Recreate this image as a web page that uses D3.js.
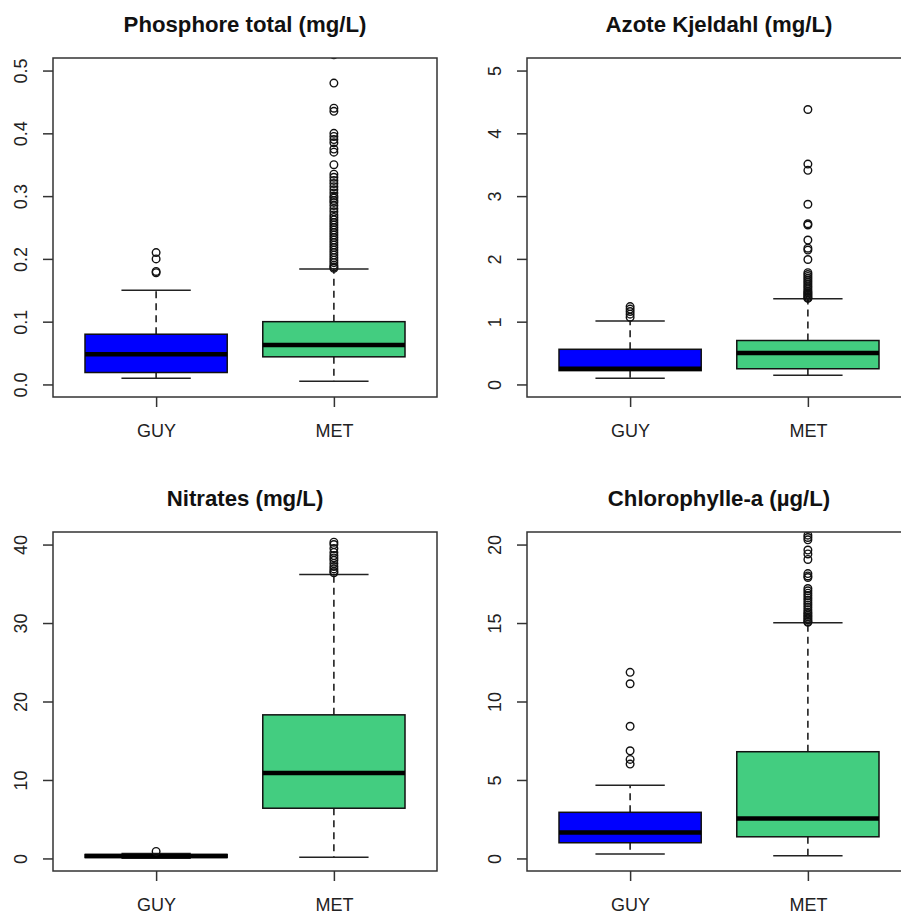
<!DOCTYPE html>
<html>
<head>
<meta charset="utf-8">
<script src="https://cdn.jsdelivr.net/npm/d3@7/dist/d3.min.js"></script>
<style>
  html, body { margin: 0; padding: 0; background: #fff; }
  svg { display: block; font-family: "Liberation Sans", Arial, Helvetica, sans-serif; }
</style>
</head>
<body>
<svg id="chart" width="901" height="914"></svg>
<script>
// ---------------- DATA ----------------
const groups = ["GUY", "MET"];
const groupColors = ["#0000FF", "#43CD80"];
const titles = ["Phosphore total (mg/L)", "Azote Kjeldahl (mg/L)", "Nitrates (mg/L)", "Chlorophylle-a (\u00B5g/L)"];
const yLimits = [[0, 0.5], [0, 5], [0, 40], [0, 20]];
const yTicks = [[0, 0.1, 0.2, 0.3, 0.4, 0.5], [0, 1, 2, 3, 4, 5], [0, 10, 20, 30, 40], [0, 5, 10, 15, 20]];
const yTickLabels = [["0.0", "0.1", "0.2", "0.3", "0.4", "0.5"], ["0", "1", "2", "3", "4", "5"], ["0", "10", "20", "30", "40"], ["0", "5", "10", "15", "20"]];

// stats: [lower whisker, Q1, median, Q3, upper whisker]
const phosStatsGUY = [0.010, 0.019, 0.048, 0.080, 0.150];
const phosStatsMET = [0.005, 0.044, 0.063, 0.100, 0.184];
const phosOutGUY = [0.21, 0.20, 0.18, 0.178];
const phosOutMET = [0.525, 0.48, 0.44, 0.435, 0.40, 0.395, 0.39, 0.385, 0.375, 0.37, 0.35, 0.335, 0.33, 0.325, 0.32, 0.315,
  0.31, 0.305, 0.30, 0.297, 0.293, 0.29, 0.285, 0.28, 0.275, 0.27, 0.266, 0.262, 0.258, 0.254, 0.25, 0.246, 0.242, 0.238,
  0.234, 0.23, 0.226, 0.222, 0.218, 0.214, 0.21, 0.206, 0.202, 0.198, 0.194, 0.19, 0.187, 0.185];

const kjelStatsGUY = [0.10, 0.22, 0.25, 0.56, 1.01];
const kjelStatsMET = [0.145, 0.25, 0.50, 0.70, 1.365];
const kjelOutGUY = [1.24, 1.20, 1.16, 1.12, 1.07];
const kjelOutMET = [4.38, 3.51, 3.41, 2.87, 2.56, 2.54, 2.30, 2.17, 2.14, 1.99, 1.78, 1.75, 1.72, 1.69, 1.66, 1.63, 1.60,
  1.57, 1.54, 1.51, 1.48, 1.46, 1.44, 1.42, 1.40, 1.38, 1.37];

const nitrStatsGUY = [0.02, 0.12, 0.30, 0.50, 0.62];
const nitrStatsMET = [0.14, 6.4, 10.9, 18.3, 36.2];
const nitrOutGUY = [0.90];
const nitrOutMET = [40.3, 40.0, 39.5, 39.0, 38.6, 38.3, 38.0, 37.6, 37.2, 36.9, 36.6, 36.4];

const chloStatsGUY = [0.28, 1.0, 1.66, 2.94, 4.66];
const chloStatsMET = [0.17, 1.38, 2.55, 6.8, 15.02];
const chloOutGUY = [11.86, 11.13, 8.42, 6.86, 6.31, 6.01];
const chloOutMET = [21.0, 20.6, 20.45, 20.3, 19.65, 19.4, 19.05, 18.15, 18.0, 17.9, 17.2, 17.05, 16.9, 16.75, 16.6,
  16.45, 16.3, 16.15, 16.0, 15.85, 15.7, 15.6, 15.5, 15.4, 15.3, 15.2, 15.1, 15.05];

const panelStats = [[phosStatsGUY, phosStatsMET], [kjelStatsGUY, kjelStatsMET], [nitrStatsGUY, nitrStatsMET], [chloStatsGUY, chloStatsMET]];
const panelOutliers = [[phosOutGUY, phosOutMET], [kjelOutGUY, kjelOutMET], [nitrOutGUY, nitrOutMET], [chloOutGUY, chloOutMET]];

// ---------------- LAYOUT ----------------
const plotW = 384, plotH = 339;
const panelOrigins = [[53, 58], [527, 58], [53, 532], [527, 532]];

const svg = d3.select("#chart");
svg.append("rect").attr("width", 901).attr("height", 914).attr("fill", "#fff");

titles.forEach((title, p) => {
  const [ox, oy] = panelOrigins[p];
  const g = svg.append("g").attr("transform", `translate(${ox},${oy})`);
  const [l0, l1] = yLimits[p];
  const ext = (l1 - l0) * 0.04;
  const x = d3.scaleLinear().domain([0.42, 2.58]).range([0, plotW]);
  const y = d3.scaleLinear().domain([l0 - ext, l1 + ext]).range([plotH, 0]);

  const clipId = "clip" + p;
  g.append("clipPath").attr("id", clipId).append("rect").attr("width", plotW).attr("height", plotH);
  const plot = g.append("g").attr("clip-path", `url(#${clipId})`);

  groups.forEach((grp, i) => {
    const pos = i + 1;
    const [lo, q1, med, q3, hi] = panelStats[p][i];
    // whiskers
    plot.append("line").attr("x1", x(pos)).attr("x2", x(pos)).attr("y1", y(q3)).attr("y2", y(hi))
      .attr("stroke", "#111").attr("stroke-width", 1.5).attr("stroke-dasharray", "7,5");
    plot.append("line").attr("x1", x(pos)).attr("x2", x(pos)).attr("y1", y(q1)).attr("y2", y(lo))
      .attr("stroke", "#111").attr("stroke-width", 1.5).attr("stroke-dasharray", "7,5");
    // caps
    [lo, hi].forEach(v => {
      plot.append("line").attr("x1", x(pos - 0.195)).attr("x2", x(pos + 0.195)).attr("y1", y(v)).attr("y2", y(v))
        .attr("stroke", "#222").attr("stroke-width", 1.5);
    });
    // box
    plot.append("rect").attr("x", x(pos - 0.4)).attr("width", x(pos + 0.4) - x(pos - 0.4))
      .attr("y", y(q3)).attr("height", y(q1) - y(q3))
      .attr("fill", groupColors[i]).attr("stroke", "#111").attr("stroke-width", 1.5);
    // median
    plot.append("line").attr("x1", x(pos - 0.4)).attr("x2", x(pos + 0.4)).attr("y1", y(med)).attr("y2", y(med))
      .attr("stroke", "#000").attr("stroke-width", 4.5);
    // outliers
    plot.selectAll(null).data(panelOutliers[p][i]).enter().append("circle")
      .attr("cx", x(pos)).attr("cy", d => y(d)).attr("r", 3.8)
      .attr("fill", "none").attr("stroke", "#111").attr("stroke-width", 1.4);
  });

  // frame
  g.append("rect").attr("width", plotW).attr("height", plotH)
    .attr("fill", "none").attr("stroke", "#333").attr("stroke-width", 1.5);

  // y axis
  const yAxis = g.append("g").call(
    d3.axisLeft(y).tickValues(yTicks[p]).tickSize(10).tickFormat((d, k) => yTickLabels[p][k])
  );
  yAxis.select(".domain").remove();
  yAxis.selectAll(".tick line").attr("stroke", "#333").attr("stroke-width", 1.5);
  yAxis.selectAll(".tick text")
    .attr("x", 0).attr("dy", 0).attr("text-anchor", "middle")
    .attr("transform", "translate(-26,0) rotate(-90)")
    .attr("font-size", 18).attr("fill", "#222")
    .attr("font-family", "Liberation Sans, Arial, sans-serif");

  // x axis
  const xAxis = g.append("g").attr("transform", `translate(0,${plotH})`).call(
    d3.axisBottom(x).tickValues([1, 2]).tickSize(10).tickFormat(d => groups[d - 1])
  );
  xAxis.select(".domain").remove();
  xAxis.selectAll(".tick line").attr("stroke", "#333").attr("stroke-width", 1.5);
  xAxis.selectAll(".tick text")
    .attr("y", 40).attr("dy", 0)
    .attr("font-size", 18).attr("fill", "#222")
    .attr("font-family", "Liberation Sans, Arial, sans-serif");

  // title
  g.append("text").attr("x", plotW / 2).attr("y", -26).attr("text-anchor", "middle")
    .attr("font-size", 22.2).attr("font-weight", "bold").attr("fill", "#111")
    .text(title);
});
</script>
</body>
</html>
